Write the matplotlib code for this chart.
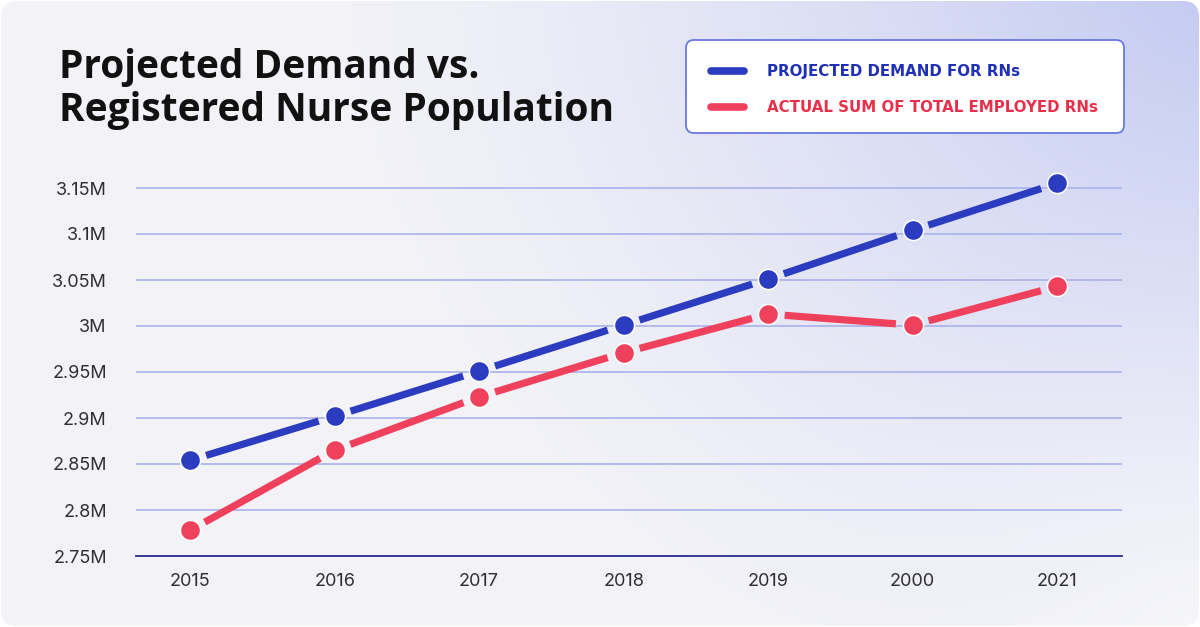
import numpy as np
import matplotlib
matplotlib.use("Agg")
import matplotlib.pyplot as plt
from matplotlib.patches import FancyBboxPatch
from matplotlib.lines import Line2D

# ---- data ----
years = ["2015", "2016", "2017", "2018", "2019", "2000", "2021"]
projected_demand = [2.854, 2.902, 2.951, 3.001, 3.051, 3.104, 3.155]   # millions
actual_employed = [2.778, 2.865, 2.923, 2.971, 3.013, 3.001, 3.043]    # millions
y_ticks = [2.75, 2.8, 2.85, 2.9, 2.95, 3.0, 3.05, 3.1, 3.15]
y_tick_labels = ["2.75M", "2.8M", "2.85M", "2.9M", "2.95M", "3M", "3.05M", "3.1M", "3.15M"]
title = "Projected Demand vs.\nRegistered Nurse Population"
legend_labels = ["PROJECTED DEMAND FOR RNs", "ACTUAL SUM OF TOTAL EMPLOYED RNs"]

BLUE = "#2c3cc0"
RED = "#ef415c"
LEG_BLUE = "#1f2fb6"
LEG_RED = "#e8304c"
GRID = "#aab2ea"
AXIS = "#2a2f8e"
TEXT = "#2e2e33"

W, H = 1200, 627
fig = plt.figure(figsize=(12, 6.27), dpi=100)
fig.patch.set_facecolor("white")

# ---- background gradient with rounded corners ----
bg = fig.add_axes([0, 0, 1, 1])
bg.set_xlim(0, W)
bg.set_ylim(H, 0)
bg.axis("off")
yy, xx = np.mgrid[0:H:2, 0:W:2]
d = np.sqrt((xx - 1230) ** 2 + ((yy + 40) * 1.15) ** 2)
w = np.clip(1 - d / 950, 0, 1) ** 1.35
base = np.array([0.955, 0.955, 0.972])
lav = np.array([0.760, 0.786, 0.945])
img = base[None, None, :] * (1 - w[..., None]) + lav[None, None, :] * w[..., None]
w2 = np.clip(1 - np.sqrt((xx - 1200) ** 2 + (yy - 627) ** 2) / 500, 0, 1) ** 2
img = img * (1 - 0.6 * w2[..., None]) + np.array([0.985, 0.985, 0.99]) * 0.6 * w2[..., None]
im = bg.imshow(img, extent=[0, W, H, 0], interpolation="bilinear", zorder=0)
clip = FancyBboxPatch((1, 1), W - 2, H - 2, boxstyle="round,pad=0,rounding_size=16",
                      transform=bg.transData, facecolor="none", edgecolor="none")
bg.add_patch(clip)
im.set_clip_path(clip)

# ---- title ----
fig.text(59 / W, 1 - 48 / H, title, fontsize=28, fontweight="bold", color="#111111",
         family=["Open Sans", "DejaVu Sans"], va="top", ha="left", linespacing=1.12)

# ---- legend box ----
lg = FancyBboxPatch((686, 40), 438, 93, boxstyle="round,pad=0,rounding_size=8",
                    transform=bg.transData, facecolor="white", edgecolor="#6a78e2",
                    linewidth=1.3, zorder=5)
bg.add_patch(lg)
for i, (lab, col, lcol) in enumerate(zip(legend_labels, [BLUE, RED], [LEG_BLUE, LEG_RED])):
    yl = 71 + 36 * i
    bg.add_line(Line2D([711, 744], [yl, yl], color=col, lw=5.5, solid_capstyle="round", zorder=6))
    bg.text(767, yl + 0.5, lab, color=lcol, fontsize=10.8, fontweight="semibold",
            family=["DejaVu Sans"], va="center", ha="left", zorder=6)

# ---- chart ----
ax = fig.add_axes([136 / W, 71 / H, (1122 - 136) / W, (556 - 169.6) / H])
ax.patch.set_alpha(0)
x = np.arange(len(years))
ax.set_xlim(-0.375, len(years) - 1 + 0.45)
ax.set_ylim(2.75, 3.17)
ax.set_yticks(y_ticks)
ax.set_yticklabels(y_tick_labels)
ax.set_xticks(x)
ax.set_xticklabels(years)
ax.tick_params(axis="both", length=0, labelsize=13, labelcolor=TEXT)
ax.tick_params(axis="y", pad=21)
ax.tick_params(axis="x", pad=12)
for lbl in ax.get_xticklabels() + ax.get_yticklabels():
    lbl.set_family(["Inter", "DejaVu Sans"])
for s in ["top", "right", "left"]:
    ax.spines[s].set_visible(False)
ax.spines["bottom"].set_color(AXIS)
ax.spines["bottom"].set_linewidth(1.3)
ax.grid(axis="y", color=GRID, lw=1.2)
ax.set_axisbelow(True)

for series, col in [(projected_demand, BLUE), (actual_employed, RED)]:
    for i in range(len(series) - 1):
        ax.annotate("", xy=(x[i + 1], series[i + 1]), xytext=(x[i], series[i]),
                    arrowprops=dict(arrowstyle="-", color=col, lw=5.2,
                                    shrinkA=12, shrinkB=12, capstyle="butt"),
                    zorder=3)
    ax.plot(x, series, linestyle="none", marker="o", markersize=14.5,
            markerfacecolor=col, markeredgecolor="white", markeredgewidth=1.1, zorder=4,
            clip_on=False)

fig.savefig("out.png", dpi=100, facecolor="white")
